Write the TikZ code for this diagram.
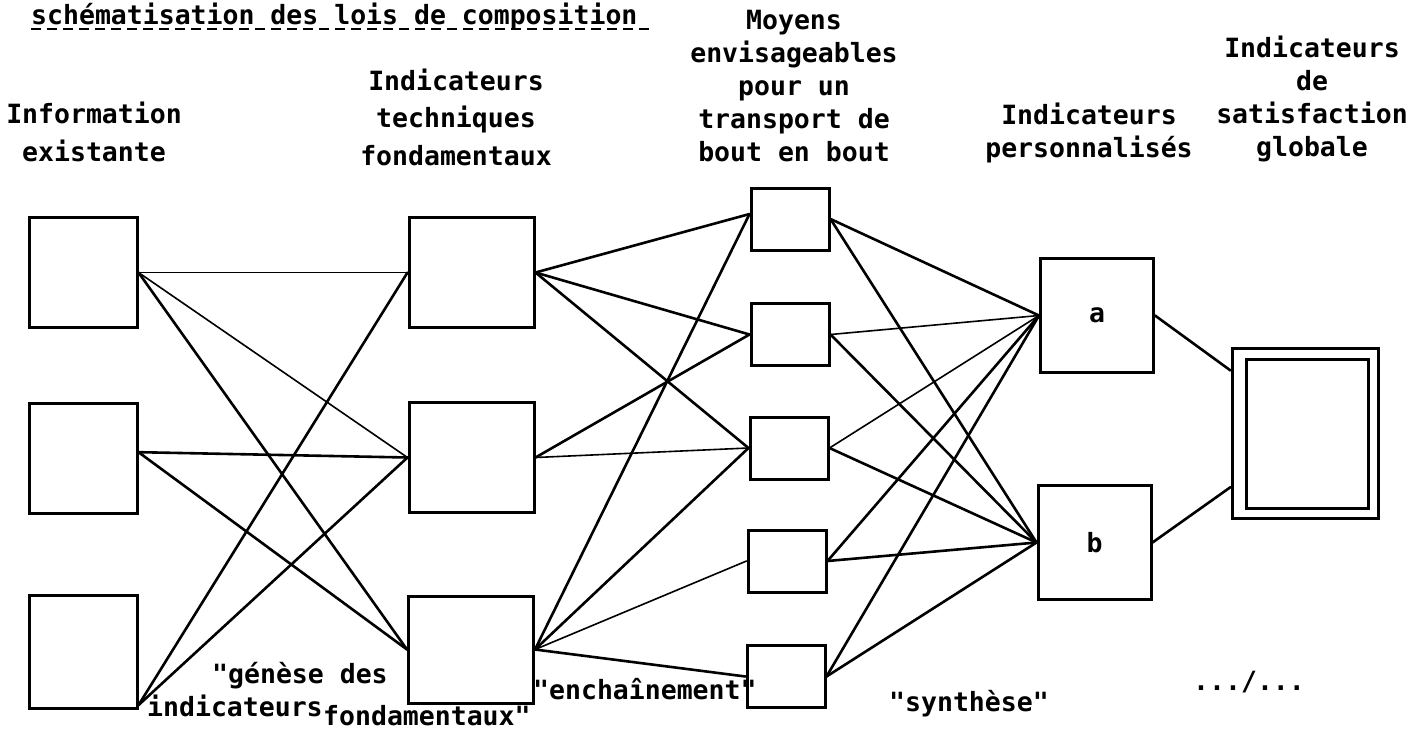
\documentclass[tikz,border=0pt]{standalone}
\usepackage{fontspec}
\setmonofont{DejaVu Sans Mono}
\newcommand{\headfont}{\ttfamily\bfseries\fontsize{26.5}{33}\selectfont}
\newcommand{\wideheadfont}{\ttfamily\bfseries\fontsize{26.5}{37.5}\selectfont}
\tikzset{
  box/.style={rectangle, draw, line width=3pt, inner sep=0pt, font=\headfont},
  infobox/.style={box, minimum width=108pt, minimum height=110pt},
  techbox/.style={box, minimum width=125pt, minimum height=110pt},
  moybox/.style={box, minimum width=78pt, minimum height=62pt},
  persbox/.style={box, minimum width=113pt, minimum height=114pt},
  head/.style={align=center, inner sep=0pt, font=\headfont},
  widehead/.style={align=center, inner sep=0pt, font=\wideheadfont},
  note/.style={anchor=base west, inner sep=0pt, font=\headfont},
  link/.style={line width=2.6pt, line cap=round},
  faintlink/.style={line width=1.6pt, line cap=round},
  underline/.style={line width=2.5pt, dash pattern=on 10pt off 6pt}
}
\begin{document}
\begin{tikzpicture}[x=1pt, y=-1pt]
  \useasboundingbox (0,0) rectangle (1422,732);

  % title
  \node[note] (titre) at (31,24) {schématisation des lois de composition};
  \draw[underline] ([yshift=-5pt]titre.base west) -- ([yshift=-5pt, xshift=16pt]titre.base east);

  % column headers
  \node[widehead] (hinfo) at (94,132) {Information\\existante};
  \node[widehead] (htech) at (456,117) {Indicateurs\\techniques\\fondamentaux};
  \node[head] (hmoy) at (794,86) {Moyens\\envisageables\\pour un\\transport de\\bout en bout};
  \node[head] (hpers) at (1089,133) {Indicateurs\\personnalisés};
  \node[head] (hsat) at (1312,99) {Indicateurs\\de\\satisfaction\\globale};

  % boxes
  \node[infobox] (info1) at (83,272.5) {};
  \node[infobox] (info2) at (83,458) {};
  \node[infobox, minimum height=113pt] (info3) at (83,651.5) {};
  \node[techbox] (tech1) at (471.5,272.5) {};
  \node[techbox] (tech2) at (471.5,457.5) {};
  \node[techbox, minimum height=107pt] (tech3) at (471,649.5) {};
  \node[moybox] (moy1) at (790,219) {};
  \node[moybox] (moy2) at (790,334.5) {};
  \node[moybox] (moy3) at (789,448) {};
  \node[moybox] (moy4) at (787,561) {};
  \node[moybox] (moy5) at (786,676.5) {};
  \node[persbox] (persa) at (1097,315.5) {a};
  \node[persbox] (persb) at (1094.5,542.5) {b};
  \node[box, minimum width=146pt, minimum height=170pt] (glob) at (1305,433) {};
  \node[box, minimum width=122pt, minimum height=149pt] (globin) at (1307,433.5) {};

  % "genese des indicateurs fondamentaux"
  \draw[faintlink] (info1.east) -- (tech1.west);
  \draw[faintlink] (info1.east) -- (tech2.west);
  \draw[link] (info1.east) -- (tech3.west);
  \draw[link] (info2.6) -- (tech2.west);
  \draw[link] (info2.6) -- (tech3.west);
  \draw[link] (info3.316) -- (tech1.west);
  \draw[link] (info3.316) -- (tech2.west);

  % "enchainement"
  \draw[link] (tech1.east) -- (moy1.173);
  \draw[link] (tech1.east) -- (moy2.west);
  \draw[link] (tech1.east) -- (moy3.west);
  \draw[link] (tech2.east) -- (moy2.west);
  \draw[faintlink] (tech2.east) -- (moy3.west);
  \draw[link] (tech3.east) -- (moy1.173);
  \draw[link] (tech3.east) -- (moy3.west);
  \draw[faintlink] (tech3.east) -- (moy4.west);
  \draw[link] (tech3.east) -- (moy5.west);

  % "synthese"
  \draw[link] (moy1.east) -- (persa.west);
  \draw[link] (moy1.east) -- (persb.west);
  \draw[faintlink] (moy2.east) -- (persa.west);
  \draw[link] (moy2.east) -- (persb.west);
  \draw[faintlink] (moy3.east) -- (persa.west);
  \draw[link] (moy3.east) -- (persb.west);
  \draw[link] (moy4.east) -- (persa.west);
  \draw[link] (moy4.east) -- (persb.west);
  \draw[link] (moy5.east) -- (persa.west);
  \draw[link] (moy5.east) -- (persb.west);
  \draw[link] (persa.east) -- (glob.140);
  \draw[link] (persb.east) -- (glob.216);

  % phase labels
  \node[note] (lgenese) at (212,683) {"génèse des};
  \node[note] (lindic) at (147,716) {indicateurs};
  \node[note] (lfond) at (323,725) {fondamentaux"};
  \node[note] (lench) at (533,699) {"enchaînement"};
  \node[note] (lsynth) at (889,711) {"synthèse"};
  \node[note] (lsuite) at (1193,690) {.../...};
\end{tikzpicture}
\end{document}
